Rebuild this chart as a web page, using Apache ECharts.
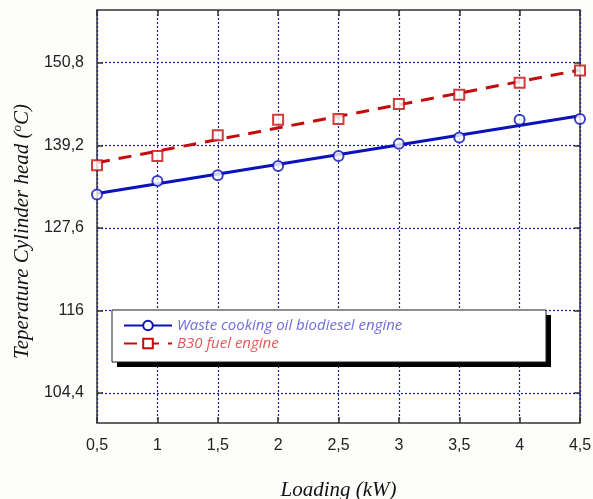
<!DOCTYPE html>
<html>
<head>
<meta charset="utf-8">
<script src="https://cdn.jsdelivr.net/npm/echarts@6/dist/echarts.min.js"></script>
<style>
  html, body { margin: 0; padding: 0; background: #fdfdfb; }
  #main { width: 593px; height: 499px; }
</style>
</head>
<body>
<div id="main"></div>
<script>
  // loading (kW)
  var loads = [0.5, 1, 1.5, 2, 2.5, 3, 3.5, 4, 4.5]
  // cylinder head temperature (°C)
  var wcoTemp = [132.3, 134.2, 135.0, 136.3, 137.7, 139.4, 140.3, 142.8, 142.9]
  var b30Temp = [136.4, 137.7, 140.6, 142.8, 142.9, 145.0, 146.3, 148.0, 149.7]
  var yTicks = [104.4, 116, 127.6, 139.2, 150.8]
  var wcoName = 'Waste cooking oil biodiesel engine'
  var b30Name = 'B30 fuel engine'

  // straight least-squares line through the points, like the original plot
  function fitLine(xs, ys) {
    var n = xs.length, mx = 0, my = 0
    for (var i = 0; i < n; i++) { mx += xs[i] / n; my += ys[i] / n }
    var sxy = 0, sxx = 0
    for (var j = 0; j < n; j++) {
      sxy += (xs[j] - mx) * (ys[j] - my)
      sxx += (xs[j] - mx) * (xs[j] - mx)
    }
    var k = sxy / sxx
    var x0 = xs[0], x1 = xs[n - 1]
    return [[x0, my + k * (x0 - mx)], [x1, my + k * (x1 - mx)]]
  }
  function pairs(xs, ys) {
    return xs.map(function (x, i) { return [x, ys[i]] })
  }
  function comma(v) {
    return String(v).replace('.', ',')
  }

  var blue = '#0b12b8'
  var red = '#c40c0c'
  var gridLine = { show: true, lineStyle: { color: '#1c1ca4', type: [2, 2], width: 1.2 } }
  var labelStyle = { color: '#222', fontFamily: 'Liberation Sans', fontSize: 16 }
  var tickStyle = { color: '#333', width: 1.5 }

  var myChart = echarts.init(document.getElementById('main'))
  var option = {
    backgroundColor: '#fdfdfb',
    animation: false,
    grid: {
      left: 97, right: 13, top: 10, bottom: 76,
      outerBoundsMode: 'none', containLabel: false,
      show: true, backgroundColor: '#ffffff', borderColor: '#333', borderWidth: 1.5
    },
    xAxis: [
      {
        type: 'value', min: 0.5, max: 4.5, interval: 0.5,
        name: 'Loading (kW)', nameLocation: 'middle', nameGap: 57,
        nameTextStyle: { fontFamily: 'Liberation Serif', fontStyle: 'italic', fontSize: 21, color: '#111' },
        axisLine: { show: false },
        axisTick: { inside: true, length: 6, lineStyle: tickStyle },
        axisLabel: Object.assign({ formatter: comma, margin: 15 }, labelStyle),
        splitLine: gridLine
      },
      {
        type: 'value', min: 0.5, max: 4.5, interval: 0.5, position: 'top',
        axisLine: { show: false },
        axisTick: { inside: true, length: 6, lineStyle: tickStyle },
        axisLabel: { show: false },
        splitLine: { show: false }
      }
    ],
    yAxis: [
      {
        type: 'value', min: 100.2, max: 158.2,
        name: 'Teperature Cylinder head ({s|o}C)', nameLocation: 'middle', nameGap: 47,
        nameTextStyle: {
          fontFamily: 'Liberation Serif', fontStyle: 'italic', fontSize: 21, color: '#111',
          padding: [0, 30, 0, 0],
          rich: { s: { fontFamily: 'Liberation Serif', fontStyle: 'italic', fontSize: 13, verticalAlign: 'bottom', padding: [0, 0, 9, 0] } }
        },
        axisLine: { show: false },
        axisTick: { inside: true, length: 6, customValues: yTicks, lineStyle: tickStyle },
        axisLabel: Object.assign({ formatter: comma, margin: 13, customValues: yTicks }, labelStyle),
        splitLine: gridLine
      },
      {
        type: 'value', min: 100.2, max: 158.2, position: 'right',
        axisLine: { show: false },
        axisTick: { inside: true, length: 6, customValues: yTicks, lineStyle: tickStyle },
        axisLabel: { show: false, customValues: yTicks },
        splitLine: { show: false }
      }
    ],
    graphic: [
      {
        type: 'rect', z: 50,
        shape: { x: 117, y: 315, width: 434, height: 52 },
        style: { fill: '#000' }
      },
      {
        type: 'rect', z: 51,
        shape: { x: 112, y: 310, width: 434, height: 52 },
        style: { fill: '#ffffff', stroke: '#222', lineWidth: 1 }
      }
    ],
    legend: {
      z: 60, orient: 'vertical', left: 118, top: 313, itemGap: 3,
      itemWidth: 48, itemHeight: 12,
      data: [wcoName, b30Name],
      formatter: function (name) {
        if (name === b30Name) return '{n|B30} {r|fuel engine}'
        return '{b|' + name + '}'
      },
      textStyle: {
        fontFamily: 'Open Sans', fontStyle: 'italic', fontSize: 15,
        rich: {
          b: { color: '#6e6ed8', fontFamily: 'Open Sans', fontStyle: 'italic', fontSize: 15 },
          n: { color: '#e05a5a', fontFamily: 'Open Sans', fontSize: 15 },
          r: { color: '#e05a5a', fontFamily: 'Open Sans', fontStyle: 'italic', fontSize: 15 }
        }
      }
    },
    series: [
      {
        name: wcoName, type: 'line', data: fitLine(loads, wcoTemp),
        symbol: 'emptyCircle', symbolSize: 9, showSymbol: false,
        lineStyle: { color: blue, width: 3 }, itemStyle: { color: blue, borderWidth: 1.5 }, z: 3
      },
      {
        name: wcoName, type: 'scatter', data: pairs(loads, wcoTemp),
        symbol: 'emptyCircle', symbolSize: 10,
        itemStyle: { color: blue, borderColor: blue, borderWidth: 1.2 }, z: 4
      },
      {
        name: b30Name, type: 'line', data: fitLine(loads, b30Temp),
        symbol: 'emptyRect', symbolSize: 10, showSymbol: false,
        lineStyle: { color: red, width: 3, type: [13, 9] }, itemStyle: { color: red, borderWidth: 1.5 }, z: 3
      },
      {
        name: b30Name, type: 'scatter', data: pairs(loads, b30Temp),
        symbol: 'emptyRect', symbolSize: 10,
        itemStyle: { color: red, borderColor: red, borderWidth: 1.2 }, z: 4
      }
    ]
  }
  option && myChart.setOption(option)
</script>
</body>
</html>
